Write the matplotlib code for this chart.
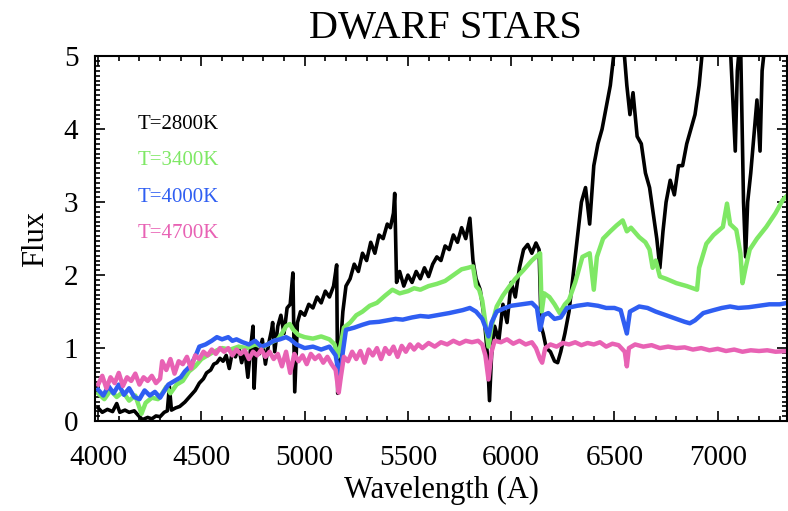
import matplotlib
matplotlib.use('Agg')
import matplotlib.pyplot as plt
from matplotlib.ticker import MultipleLocator

plt.rcParams['font.family'] = ['Liberation Serif', 'DejaVu Serif']

# T=2800K (black)
wave_2800 = [4000, 4020, 4045, 4070, 4090, 4105, 4130, 4150, 4175, 4200, 4215, 4240, 4260, 4280,
             4300, 4320, 4335, 4345, 4355, 4375, 4395, 4420, 4445, 4470, 4490, 4510, 4525, 4545,
             4560, 4575, 4590, 4605, 4620, 4635, 4650, 4665, 4680, 4695, 4710, 4725, 4740, 4750,
             4755, 4765, 4780, 4795, 4810, 4825, 4840, 4845, 4855, 4870, 4885, 4900, 4915, 4930,
             4943, 4952, 4965, 4980, 5000, 5020, 5040, 5060, 5080, 5100, 5120, 5140, 5155, 5160,
             5170, 5185, 5200, 5220, 5240, 5260, 5280, 5300, 5320, 5340, 5360, 5380, 5400, 5415,
             5430, 5436, 5445, 5460, 5480, 5500, 5520, 5540, 5560, 5580, 5600, 5620, 5640, 5660,
             5680, 5700, 5720, 5740, 5760, 5780, 5800, 5815, 5830, 5850, 5870, 5885, 5895, 5905,
             5920, 5940, 5960, 5980, 6000, 6020, 6040, 6060, 6080, 6100, 6120, 6135, 6145, 6155,
             6170, 6190, 6210, 6225, 6240, 6260, 6280, 6300, 6320, 6340, 6360, 6380, 6400, 6420,
             6440, 6460, 6480, 6500, 6520, 6540, 6560, 6575, 6590, 6610, 6630, 6650, 6670, 6690,
             6705, 6720, 6735, 6750, 6770, 6790, 6810, 6830, 6850, 6870, 6890, 6910, 6930, 6960,
             7000, 7040, 7060, 7075, 7085, 7095, 7110, 7125, 7135, 7145, 7160, 7175, 7190, 7205,
             7215, 7230, 7250, 7280, 7320, 7340]
flux_2800 = [0.18, 0.12, 0.16, 0.13, 0.24, 0.12, 0.15, 0.12, 0.14, 0.06, 0.02, 0.05, 0.03, 0.07,
             0.06, 0.12, 0.14, 0.47, 0.15, 0.18, 0.20, 0.26, 0.34, 0.42, 0.52, 0.58, 0.66, 0.70,
             0.78, 0.80, 0.86, 0.82, 0.90, 0.72, 0.95, 0.88, 1.02, 0.80, 0.98, 0.60, 1.05, 1.30,
             0.45, 1.00, 0.92, 1.12, 0.78, 1.05, 1.25, 1.35, 0.95, 1.30, 1.45, 1.20, 1.55, 1.60,
             2.03, 0.40, 1.35, 1.50, 1.45, 1.60, 1.55, 1.70, 1.62, 1.78, 1.70, 1.85, 2.14, 0.38,
             0.90, 1.50, 1.85, 1.95, 2.15, 2.05, 2.30, 2.20, 2.45, 2.30, 2.55, 2.50, 2.70, 2.65,
             2.85, 3.12, 1.90, 2.05, 1.85, 2.00, 1.90, 2.05, 1.95, 2.10, 1.98, 2.15, 2.25, 2.20,
             2.40, 2.35, 2.55, 2.45, 2.65, 2.50, 2.78, 2.20, 1.95, 1.80, 1.40, 0.90, 0.28, 0.90,
             1.30, 1.10, 1.60, 1.35, 1.90, 1.70, 2.10, 2.35, 2.42, 2.30, 2.44, 2.35, 1.30, 1.20,
             1.00, 0.95, 0.82, 0.80, 0.95, 1.20, 1.50, 2.00, 2.50, 3.00, 3.20, 2.70, 3.50, 3.80,
             4.00, 4.30, 4.60, 5.10, 5.40, 5.30, 4.60, 4.20, 4.50, 3.90, 3.80, 3.40, 3.20, 2.80,
             2.50, 2.10, 2.60, 3.00, 3.30, 3.10, 3.50, 3.50, 3.80, 4.00, 4.20, 4.60, 5.20, 5.60,
             5.80, 5.60, 5.20, 4.30, 3.70, 4.80, 5.30, 3.00, 2.25, 3.00, 3.40, 3.90, 4.40, 3.70,
             4.80, 5.20, 5.40, 5.60, 5.80, 5.90]

# T=3400K (green)
wave_3400 = [4000, 4030, 4060, 4090, 4120, 4150, 4180, 4210, 4230, 4260, 4290, 4315, 4330, 4350,
             4380, 4410, 4440, 4470, 4500, 4530, 4560, 4600, 4640, 4680, 4720, 4760, 4800, 4840,
             4870, 4890, 4910, 4928, 4945, 4970, 5000, 5040, 5080, 5120, 5145, 5160, 5175, 5190,
             5220, 5250, 5280, 5315, 5350, 5390, 5425, 5460, 5500, 5530, 5560, 5600, 5640, 5680,
             5720, 5760, 5790, 5815, 5830, 5845, 5860, 5875, 5890, 5905, 5930, 5960, 5990, 6020,
             6060, 6100, 6140, 6148, 6160, 6185, 6210, 6235, 6260, 6280, 6310, 6345, 6380, 6400,
             6415, 6445, 6480, 6510, 6540, 6560, 6580, 6620, 6650, 6670, 6685, 6700, 6720, 6750,
             6800, 6850, 6900, 6910, 6945, 6980, 7025, 7045, 7060, 7090, 7110, 7120, 7135, 7155,
             7190, 7235, 7280, 7315, 7340]
flux_3400 = [0.38, 0.30, 0.42, 0.33, 0.40, 0.28, 0.35, 0.10, 0.25, 0.32, 0.30, 0.40, 0.47, 0.38,
             0.50, 0.55, 0.68, 0.75, 0.85, 0.90, 0.95, 1.00, 0.98, 1.02, 1.00, 1.05, 1.02, 1.08,
             1.12, 1.20, 1.30, 1.33, 1.25, 1.18, 1.15, 1.13, 1.16, 1.12, 1.05, 0.88, 1.05, 1.28,
             1.35, 1.45, 1.50, 1.58, 1.62, 1.72, 1.80, 1.75, 1.78, 1.82, 1.80, 1.85, 1.88, 1.92,
             2.00, 2.08, 2.10, 2.12, 1.85, 1.80, 1.65, 1.35, 1.02, 1.30, 1.57, 1.72, 1.84, 1.95,
             2.07, 2.20, 2.30, 1.50, 1.75, 1.70, 1.60, 1.48, 1.60, 1.66, 1.90, 2.25, 2.30, 1.80,
             2.25, 2.50, 2.60, 2.68, 2.75, 2.60, 2.65, 2.52, 2.45, 2.35, 2.10, 2.20, 1.98, 1.95,
             1.89, 1.85, 1.80, 2.10, 2.43, 2.55, 2.66, 2.98, 2.70, 2.62, 2.30, 1.89, 2.10, 2.35,
             2.50, 2.66, 2.85, 3.03, 3.10]

# T=4000K (blue)
wave_4000 = [4000, 4025, 4050, 4075, 4100, 4125, 4150, 4175, 4200, 4225, 4250, 4275, 4300, 4315,
             4340, 4370, 4400, 4420, 4445, 4470, 4490, 4520, 4550, 4575, 4600, 4630, 4650, 4670,
             4700, 4730, 4760, 4790, 4820, 4850, 4880, 4910, 4930, 4960, 5000, 5040, 5080, 5120,
             5150, 5170, 5185, 5200, 5240, 5280, 5315, 5360, 5400, 5440, 5475, 5520, 5560, 5600,
             5640, 5700, 5765, 5800, 5830, 5860, 5880, 5890, 5905, 5930, 5970, 6000, 6050, 6100,
             6125, 6140, 6155, 6180, 6210, 6240, 6270, 6320, 6370, 6420, 6460, 6500, 6530, 6560,
             6575, 6620, 6660, 6700, 6750, 6800, 6840, 6865, 6890, 6930, 6980, 7020, 7060, 7100,
             7150, 7200, 7250, 7300, 7340]
flux_4000 = [0.43, 0.35, 0.48, 0.38, 0.50, 0.36, 0.45, 0.33, 0.30, 0.42, 0.35, 0.40, 0.32, 0.39,
             0.50, 0.55, 0.60, 0.68, 0.75, 0.88, 1.02, 1.05, 1.10, 1.15, 1.12, 1.15, 1.10, 1.12,
             1.08, 1.05, 1.10, 1.02, 1.05, 1.10, 1.12, 1.15, 1.12, 1.05, 1.00, 1.02, 0.98, 1.02,
             0.90, 0.57, 0.95, 1.25, 1.28, 1.32, 1.35, 1.36, 1.38, 1.40, 1.39, 1.42, 1.44, 1.43,
             1.45, 1.48, 1.52, 1.55, 1.50, 1.40, 1.25, 1.16, 1.35, 1.50, 1.55, 1.58, 1.60, 1.62,
             1.55, 1.25, 1.45, 1.48, 1.40, 1.42, 1.55, 1.58, 1.60, 1.58, 1.55, 1.55, 1.52, 1.20,
             1.50, 1.57, 1.55, 1.50, 1.45, 1.40, 1.36, 1.34, 1.38, 1.48, 1.52, 1.55, 1.57, 1.55,
             1.56, 1.58, 1.60, 1.60, 1.62]

# T=4700K (pink)
wave_4700 = [4000, 4020, 4040, 4060, 4080, 4100, 4120, 4140, 4160, 4180, 4200, 4220, 4240, 4260,
             4280, 4300, 4310, 4330, 4350, 4370, 4390, 4410, 4430, 4450, 4470, 4490, 4510, 4530,
             4550, 4570, 4590, 4610, 4630, 4650, 4670, 4690, 4710, 4730, 4750, 4770, 4790, 4810,
             4830, 4850, 4870, 4890, 4910, 4930, 4950, 4970, 4990, 5010, 5030, 5050, 5070, 5090,
             5110, 5130, 5150, 5165, 5175, 5190, 5210, 5230, 5250, 5270, 5290, 5310, 5330, 5350,
             5370, 5390, 5410, 5430, 5450, 5470, 5490, 5510, 5530, 5550, 5570, 5600, 5630, 5660,
             5690, 5720, 5750, 5780, 5810, 5840, 5860, 5875, 5890, 5905, 5920, 5950, 5980, 6010,
             6040, 6070, 6100, 6120, 6140, 6150, 6165, 6190, 6220, 6250, 6280, 6310, 6340, 6370,
             6400, 6430, 6460, 6490, 6520, 6550, 6560, 6570, 6600, 6640, 6680, 6720, 6760, 6800,
             6840, 6880, 6920, 6960, 7000, 7040, 7080, 7120, 7160, 7200, 7240, 7280, 7340]
flux_4700 = [0.50, 0.62, 0.45, 0.60, 0.52, 0.66, 0.48, 0.60, 0.55, 0.65, 0.50, 0.60, 0.55, 0.62,
             0.52, 0.58, 0.82, 0.70, 0.85, 0.65, 0.82, 0.78, 0.88, 0.72, 0.90, 0.85, 0.95, 0.90,
             0.98, 0.92, 1.00, 0.95, 1.00, 0.90, 0.98, 0.92, 0.97, 0.85, 0.95, 0.90, 0.98, 0.88,
             0.95, 0.85, 0.92, 0.75, 0.95, 0.66, 0.92, 0.82, 0.90, 0.78, 0.92, 0.85, 0.90, 0.80,
             0.88, 0.78, 0.70, 0.39, 0.60, 0.88, 0.82, 0.95, 0.85, 0.96, 0.80, 0.98, 0.90, 1.00,
             0.85, 1.00, 0.92, 1.02, 0.88, 1.03, 0.95, 1.05, 0.98, 1.05, 1.00, 1.07, 1.02, 1.08,
             1.05, 1.10, 1.06, 1.10, 1.08, 1.10, 1.05, 0.90, 0.57, 0.95, 1.10, 1.08, 1.12, 1.06,
             1.10, 1.05, 1.08, 1.00, 0.85, 0.80, 1.00, 1.05, 1.02, 1.07, 1.05, 1.08, 1.04, 1.07,
             1.05, 1.08, 1.02, 1.06, 1.04, 0.95, 0.75, 1.00, 1.05, 1.02, 1.04, 1.00, 1.02, 1.00,
             1.01, 0.98, 1.00, 0.97, 0.99, 0.96, 0.98, 0.95, 0.97, 0.96, 0.97, 0.95, 0.96]

labels = ['T=2800K', 'T=3400K', 'T=4000K', 'T=4700K']
colors = ['black', '#7fe865', '#2f5ef2', '#e862b4']
widths = [2.6, 3.2, 3.2, 3.2]

fig = plt.figure(figsize=(7.88, 5.11), dpi=100)
ax = fig.add_axes([0.1206, 0.176, 0.878, 0.714])

series = [(wave_2800, flux_2800), (wave_3400, flux_3400),
          (wave_4000, flux_4000), (wave_4700, flux_4700)]
for (w, f), c, lw in zip(series, colors, widths):
    ax.plot(w, f, color=c, lw=lw)

ax.set_xlim(3985, 7335)
ax.set_ylim(0, 5)

ax.xaxis.set_major_locator(MultipleLocator(500))
ax.xaxis.set_minor_locator(MultipleLocator(100))
ax.yaxis.set_major_locator(MultipleLocator(1))
ax.yaxis.set_minor_locator(MultipleLocator(1 / 15))
ax.tick_params(which='both', direction='in', top=True, right=True, width=1.2)
ax.tick_params(which='major', length=7, labelsize=21)
ax.tick_params(which='minor', length=3.5)
ax.tick_params(axis='x', which='major', pad=17)
ax.tick_params(axis='y', which='major', pad=12)
for s in ax.spines.values():
    s.set_linewidth(1.5)

for i, (lab, c) in enumerate(zip(labels, colors)):
    ax.text(0.062, 0.814 - i * 0.1, lab, color=c, fontsize=15,
            transform=ax.transAxes, va='center', ha='left')

ax.set_xlabel('Wavelength (A)', fontsize=22, labelpad=4)
ax.set_ylabel('Flux', fontsize=22, labelpad=10)
fig.suptitle('DWARF STARS', fontsize=29, y=0.98, x=0.565)

fig.savefig('out.png', dpi=100)
